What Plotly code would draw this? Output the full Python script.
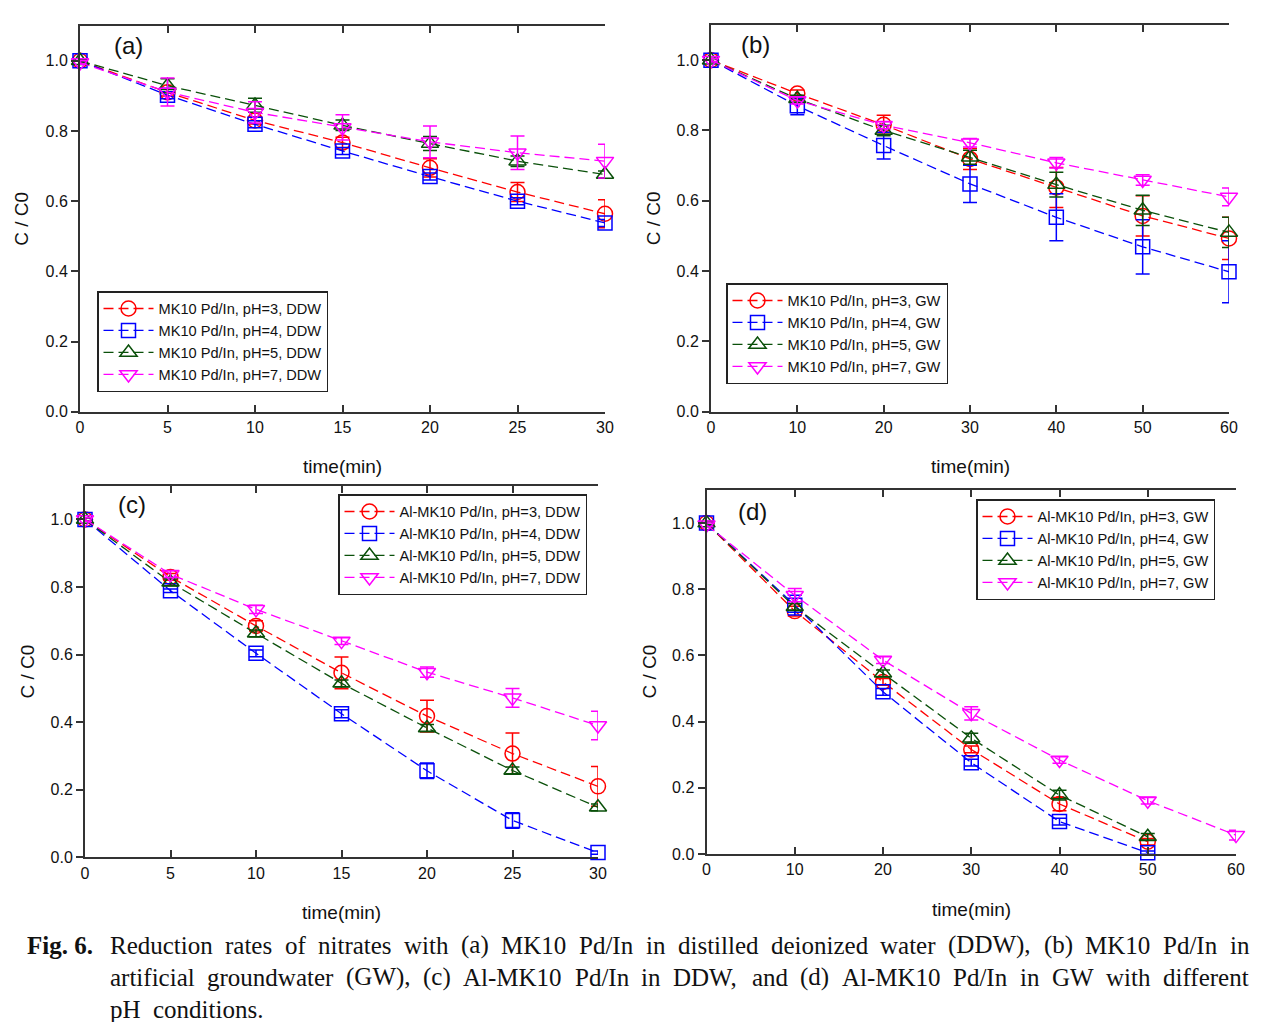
import plotly.graph_objects as go

W, H = 1265, 1022
OFF = 8  # page body margin compensation

# ---------------- data ----------------
t_a = [0, 5, 10, 15, 20, 25, 30]
a_ph3 = [1.0, 0.91, 0.83, 0.767, 0.695, 0.626, 0.564]
a_ph3_err = [0.005, 0.01, 0.01, 0.015, 0.026, 0.027, 0.04]
a_ph4 = [1.0, 0.902, 0.819, 0.743, 0.670, 0.600, 0.538]
a_ph4_err = [0.005, 0.01, 0.01, 0.01, 0.01, 0.01, 0.01]
a_ph5 = [1.0, 0.929, 0.873, 0.816, 0.764, 0.714, 0.676]
a_ph5_err = [0.005, 0.02, 0.02, 0.015, 0.02, 0.015, 0.01]
a_ph7 = [0.995, 0.911, 0.853, 0.81, 0.769, 0.738, 0.714]
a_ph7_err = [0.005, 0.04, 0.03, 0.036, 0.045, 0.048, 0.048]

t_b = [0, 10, 20, 30, 40, 50, 60]
b_ph3 = [1.0, 0.905, 0.816, 0.719, 0.638, 0.557, 0.493]
b_ph3_err = [0.005, 0.01, 0.027, 0.03, 0.057, 0.057, 0.06]
b_ph4 = [1.0, 0.87, 0.757, 0.648, 0.553, 0.469, 0.398]
b_ph4_err = [0.005, 0.025, 0.038, 0.053, 0.067, 0.077, 0.088]
b_ph5 = [1.0, 0.89, 0.80, 0.724, 0.646, 0.573, 0.51]
b_ph5_err = [0.005, 0.01, 0.015, 0.02, 0.035, 0.043, 0.043]
b_ph7 = [1.0, 0.885, 0.815, 0.765, 0.708, 0.659, 0.611]
b_ph7_err = [0.005, 0.01, 0.01, 0.012, 0.015, 0.015, 0.025]

t_c = [0, 5, 10, 15, 20, 25, 30]
c_ph3 = [1.0, 0.83, 0.685, 0.546, 0.418, 0.307, 0.21]
c_ph3_err = [0.005, 0.01, 0.015, 0.047, 0.047, 0.061, 0.059]
c_ph4 = [1.0, 0.789, 0.604, 0.425, 0.256, 0.109, 0.014]
c_ph4_err = [0.005, 0.005, 0.01, 0.012, 0.023, 0.023, 0.005]
c_ph5 = [1.0, 0.814, 0.663, 0.515, 0.383, 0.257, 0.148]
c_ph5_err = [0.005, 0.01, 0.01, 0.01, 0.01, 0.01, 0.01]
c_ph7 = [1.0, 0.838, 0.734, 0.64, 0.548, 0.472, 0.39]
c_ph7_err = [0.005, 0.01, 0.012, 0.01, 0.015, 0.028, 0.042]

t_d = [0, 10, 20, 30, 40, 50, 60]
d_ph3 = [1.0, 0.734, 0.52, 0.316, 0.151, 0.037, None]
d_ph3_err = [0.005, 0.015, 0.01, 0.01, 0.02, 0.01, 0]
d_ph4 = [1.0, 0.752, 0.49, 0.276, 0.098, 0.004, None]
d_ph4_err = [0.005, 0.03, 0.01, 0.01, 0.01, 0.005, 0]
d_ph5 = [1.0, 0.747, 0.546, 0.35, 0.178, 0.052, None]
d_ph5_err = [0.005, 0.01, 0.01, 0.015, 0.015, 0.01, 0]
d_ph7 = [0.995, 0.782, 0.586, 0.425, 0.284, 0.161, 0.057]
d_ph7_err = [0.005, 0.02, 0.01, 0.02, 0.01, 0.01, 0.015]

ph_labels = ["pH=3", "pH=4", "pH=5", "pH=7"]
panel_letters = ["(a)", "(b)", "(c)", "(d)"]
panel_prefix = ["MK10 Pd/In", "MK10 Pd/In", "Al-MK10 Pd/In", "Al-MK10 Pd/In"]
panel_water = ["DDW", "GW", "DDW", "GW"]
x_ticks_a = [0, 5, 10, 15, 20, 25, 30]
x_ticks_b = [0, 10, 20, 30, 40, 50, 60]
y_ticks = [0.0, 0.2, 0.4, 0.6, 0.8, 1.0]

caption_label = "Fig. 6."
caption_lines = [
    "Reduction rates of nitrates with (a) MK10 Pd/In in distilled deionized water (DDW), (b) MK10 Pd/In in",
    "artificial groundwater (GW), (c) Al-MK10 Pd/In in DDW, and (d) Al-MK10 Pd/In in GW with different",
    "pH conditions.",
]

# ---------------- styles ----------------
colors = ["#FF0000", "#0000FF", "#0A500A", "#FF00FF"]
symbols = ["circle-open", "square-open", "triangle-up-open", "triangle-down-open"]
msizes = [15, 14, 15, 15]
FONT = "Liberation Sans, Arial, sans-serif"
SERIF = "Liberation Serif, Times New Roman, serif"
AX = "#333333"


def fx(px):
    return (px - OFF) / W


def fy(py):
    return 1 - (py - OFF) / H


panels = [
    dict(t=t_a, ys=[a_ph3, a_ph4, a_ph5, a_ph7], es=[a_ph3_err, a_ph4_err, a_ph5_err, a_ph7_err],
         px=(80, 605), py=(25.7, 411.7), xr=30, xt=x_ticks_a, leg=(97, 291)),
    dict(t=t_b, ys=[b_ph3, b_ph4, b_ph5, b_ph7], es=[b_ph3_err, b_ph4_err, b_ph5_err, b_ph7_err],
         px=(711, 1229), py=(25.0, 411.7), xr=60, xt=x_ticks_b, leg=(726, 283)),
    dict(t=t_c, ys=[c_ph3, c_ph4, c_ph5, c_ph7], es=[c_ph3_err, c_ph4_err, c_ph5_err, c_ph7_err],
         px=(85, 598), py=(485.7, 857.3), xr=30, xt=x_ticks_a, leg=(338, 494)),
    dict(t=t_d, ys=[d_ph3, d_ph4, d_ph5, d_ph7], es=[d_ph3_err, d_ph4_err, d_ph5_err, d_ph7_err],
         px=(706.5, 1236), py=(490.0, 854.0), xr=60, xt=x_ticks_b, leg=(976, 499)),
]

fig = go.Figure()
layout = {}
annotations = []

for i, p in enumerate(panels):
    n = i + 1
    sfx = "" if n == 1 else str(n)
    xa, ya = "x" + sfx, "y" + sfx
    legname = "legend" if n == 1 else "legend" + str(n)
    for k in range(4):
        name = f"{panel_prefix[i]}, {ph_labels[k]}, {panel_water[i]}"
        fig.add_trace(go.Scatter(
            x=p["t"], y=p["ys"][k], mode="lines+markers", name=name,
            xaxis=xa, yaxis=ya, legend=legname, cliponaxis=False,
            line=dict(color=colors[k], width=1.3, dash="10px,5px"),
            marker=dict(symbol=symbols[k], size=msizes[k], color=colors[k],
                        line=dict(color=colors[k], width=1.5)),
            error_y=dict(type="data", array=p["es"][k], visible=True,
                         color=colors[k], thickness=1.5, width=7),
            connectgaps=False,
        ))
    layout["xaxis" + sfx] = dict(
        domain=[fx(p["px"][0]), fx(p["px"][1])], anchor=ya, range=[0, p["xr"]], tickvals=p["xt"],
        ticks="inside", ticklen=7, tickwidth=1.5, tickcolor=AX,
        showline=True, linecolor=AX, linewidth=2, mirror="ticks",
        showgrid=False, zeroline=False, automargin=False,
        tickfont=dict(family=FONT, size=16, color="#111"),
    )
    layout["yaxis" + sfx] = dict(
        domain=[fy(p["py"][1]), fy(p["py"][0])], anchor=xa, range=[0, 1.1], tickvals=y_ticks,
        tickformat=".1f",
        ticks="outside", ticklen=7, tickwidth=1.5, tickcolor=AX,
        showline=True, linecolor=AX, linewidth=2, mirror=False,
        showgrid=False, zeroline=False, automargin=False,
        tickfont=dict(family=FONT, size=16, color="#111"),
    )
    r = str(n + 4)
    layout["yaxis" + r] = dict(
        overlaying=ya, anchor=xa, side="right", range=[0, 1.1], tickvals=y_ticks,
        ticks="inside", ticklen=7, tickwidth=1.5, tickcolor=AX,
        showline=True, linecolor=AX, linewidth=2, showticklabels=False,
        showgrid=False, zeroline=False, automargin=False,
    )
    layout[legname] = dict(
        x=fx(p["leg"][0]), y=fy(p["leg"][1]), xanchor="left", yanchor="top",
        bgcolor="white", bordercolor="#222", borderwidth=1.5,
        font=dict(family=FONT, size=14.6, color="#111"), itemwidth=50,
        tracegroupgap=0,
    )
    annotations.append(dict(
        text=panel_letters[i], xref=xa + " domain", yref=ya + " domain",
        x=0.06 if n in (1, 3) else 0.055, y=0.95 if n != 4 else 0.94,
        xanchor="left", yanchor="middle", showarrow=False,
        font=dict(family=FONT, size=24, color="#111")))
    xc = (p["px"][0] + p["px"][1]) / 2
    annotations.append(dict(
        text="time(min)", xref="paper", yref="paper",
        x=fx(xc), y=fy(p["py"][1] + 55), xanchor="center", yanchor="middle",
        showarrow=False, font=dict(family=FONT, size=19, color="#111")))
    yc = (p["py"][0] + p["py"][1]) / 2
    annotations.append(dict(
        text="C / C0", xref="paper", yref="paper", textangle=-90,
        x=fx(p["px"][0] - 58), y=fy(yc), xanchor="center", yanchor="middle",
        showarrow=False, font=dict(family=FONT, size=19, color="#111")))

# ---------------- caption (justified, Times metrics) ----------------
TW = {' ': 250, 'a': 444, 'b': 500, 'c': 444, 'd': 500, 'e': 444, 'f': 333, 'g': 500, 'h': 500,
      'i': 278, 'j': 278, 'k': 500, 'l': 278, 'm': 778, 'n': 500, 'o': 500, 'p': 500, 'q': 500,
      'r': 333, 's': 389, 't': 278, 'u': 500, 'v': 500, 'w': 722, 'x': 500, 'y': 500, 'z': 444,
      'A': 722, 'B': 667, 'C': 667, 'D': 722, 'E': 611, 'F': 556, 'G': 722, 'H': 722, 'I': 333,
      'J': 389, 'K': 722, 'L': 611, 'M': 889, 'N': 722, 'O': 722, 'P': 556, 'Q': 722, 'R': 667,
      'S': 556, 'T': 611, 'U': 722, 'V': 722, 'W': 944, 'X': 722, 'Y': 722, 'Z': 611,
      '(': 333, ')': 333, ',': 250, '.': 250, '/': 278, '-': 333, '=': 564}
CAP_SIZE = 25


def tw(s):
    return sum(TW.get(ch, 500) for ch in s) / 1000.0 * CAP_SIZE


annotations.append(dict(text="<b>" + caption_label + "</b>", xref="paper", yref="paper",
                        x=fx(25), y=fy(945), xanchor="left", yanchor="middle",
                        showarrow=False, font=dict(family=SERIF, size=CAP_SIZE, color="#111")))
LX0, LX1 = 108, 1247
for j, line in enumerate(caption_lines):
    yy = fy(945 + 32 * j)
    words = line.split(" ")
    if j < len(caption_lines) - 1:
        total = sum(tw(w_) for w_ in words)
        gap = (LX1 - LX0 - total) / (len(words) - 1)
    else:
        gap = tw(" ") * 2
    xx = LX0
    for w_ in words:
        annotations.append(dict(text=w_, xref="paper", yref="paper", x=fx(xx), y=yy,
                                xanchor="left", yanchor="middle", showarrow=False,
                                font=dict(family=SERIF, size=CAP_SIZE, color="#111")))
        xx += tw(w_) + gap

fig.update_layout(
    template="none", autosize=False,
    width=W, height=H, margin=dict(l=0, r=0, t=0, b=0, pad=0),
    paper_bgcolor="white", plot_bgcolor="white",
    annotations=annotations, **layout,
)
fig.write_html("out.html")
